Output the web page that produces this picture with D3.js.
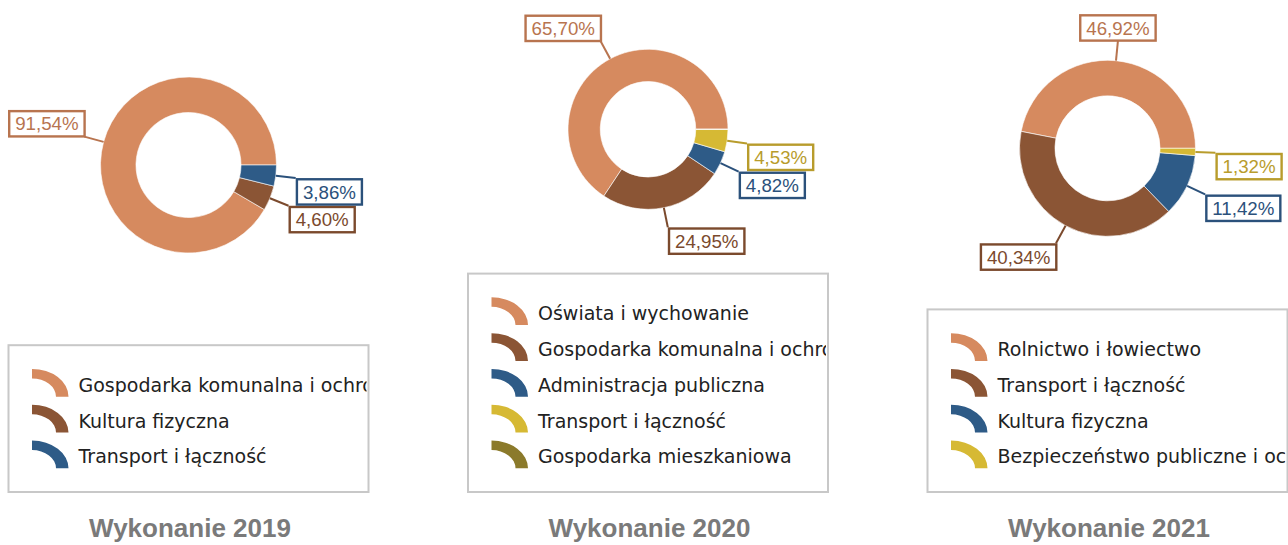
<!DOCTYPE html>
<html>
<head>
<meta charset="utf-8">
<script src="https://cdn.jsdelivr.net/npm/d3@7"></script>
<style>
  html, body { margin: 0; padding: 0; background: #fff; }
  svg { display: block; }
</style>
</head>
<body>
<svg id="chart" width="1288" height="545"></svg>
<script>
(function () {
    'use strict';

    // data
    var categories2019 = ["Gospodarka komunalna i ochrona środowiska", "Kultura fizyczna", "Transport i łączność"];
    var values2019 = [91.54, 4.60, 3.86];

    var categories2020 = ["Oświata i wychowanie", "Gospodarka komunalna i ochrona środowiska",
        "Administracja publiczna", "Transport i łączność", "Gospodarka mieszkaniowa"];
    var values2020 = [65.70, 24.95, 4.82, 4.53, 0];

    var categories2021 = ["Rolnictwo i łowiectwo", "Transport i łączność", "Kultura fizyczna",
        "Bezpieczeństwo publiczne i ochrona przeciwpożarowa"];
    var values2021 = [46.92, 40.34, 11.42, 1.32];

    var titles = ["Wykonanie 2019", "Wykonanie 2020", "Wykonanie 2021"];

    // styles
    var palette = ["#d68a5f", "#8b5535", "#2e5b87", "#d6b934", "#8b7a2b"],
        labelPalette = ["#b8744f", "#7b4a2d", "#2b517b", "#b89c2c", "#77691f"];

    var panels = [
        { cats: categories2019, vals: values2019, title: titles[0], cx: 188.5, cy: 165, r: 88 },
        { cats: categories2020, vals: values2020, title: titles[1], cx: 648, cy: 129.3, r: 80 },
        { cats: categories2021, vals: values2021, title: titles[2], cx: 1107.5, cy: 148.3, r: 88 }
    ];

    var svg = d3.select("#chart");
    var fmt = function (v) { return v.toFixed(2).replace(".", ",") + "%"; };

    var pie = d3.pie()
        .sort(null)
        .value(function (d) { return d; })
        .startAngle(Math.PI / 2)
        .endAngle(Math.PI / 2 - 2 * Math.PI);

    var legendW = 360, legendBottom = 492, itemStep = 35.8;

    panels.forEach(function (p, pi) {
        var g = svg.append("g").attr("transform", "translate(" + p.cx + "," + p.cy + ")");
        var arc = d3.arc().innerRadius(p.r * 0.597).outerRadius(p.r);
        var arcs = pie(p.vals);

        g.selectAll("path.slice")
            .data(arcs)
            .enter()
            .append("path")
            .attr("class", "slice")
            .attr("d", arc)
            .attr("fill", function (d, i) { return palette[i]; })
            .attr("stroke", "#fff")
            .attr("stroke-opacity", 0.6)
            .attr("stroke-width", 1);

        // labels
        var labs = g.selectAll("g.lab")
            .data(arcs.filter(function (d) { return d.value > 0; }))
            .enter()
            .append("g")
            .attr("class", "lab");

        labs.each(function (d) {
            var el = d3.select(this),
                i = d.index,
                col = labelPalette[i],
                a = (d.startAngle + d.endAngle) / 2,
                dx = Math.sin(a), dy = -Math.cos(a),
                sx = dx * p.r, sy = dy * p.r,
                ex = dx * (p.r + 20), ey = dy * (p.r + 20);

            el.append("line")
                .attr("x1", sx).attr("y1", sy)
                .attr("x2", ex).attr("y2", ey)
                .attr("stroke", col)
                .attr("stroke-width", 2);

            var rect = el.append("rect");
            var txt = el.append("text")
                .text(fmt(d.value))
                .attr("font-family", "'Liberation Sans', Arial, sans-serif")
                .attr("font-size", "18.7px")
                .attr("fill", col)
                .attr("text-anchor", "middle");

            var tw = txt.node().getComputedTextLength(),
                w = tw + 14.4, h = 27.7,
                left, top;

            if (Math.abs(dx) < 0.15) { left = ex - w / 2; }
            else if (dx > 0) { left = ex; }
            else { left = ex - w + 1.5; }
            top = dy > 0 ? ey : ey - h + 1;

            rect.attr("x", left + 1.2).attr("y", top + 1.2)
                .attr("width", w - 2.4).attr("height", h - 2.4)
                .attr("fill", "#fff")
                .attr("stroke", col)
                .attr("stroke-width", 2.4);

            txt.attr("x", left + w / 2).attr("y", top + h / 2 + 6.6);
        });

        // legend
        var n = p.cats.length,
            lh = (n - 1) * itemStep + 75.2,
            lx = p.cx - legendW / 2,
            ly = legendBottom - lh;

        var lg = svg.append("g").attr("transform", "translate(" + lx + "," + ly + ")");
        lg.append("rect")
            .attr("x", 0).attr("y", 0)
            .attr("width", legendW).attr("height", lh)
            .attr("fill", "#fff")
            .attr("stroke", "#c8c8c8")
            .attr("stroke-width", 2);

        svg.append("clipPath").attr("id", "lclip" + pi)
            .append("rect")
            .attr("x", 0).attr("y", 0)
            .attr("width", legendW - 2).attr("height", lh);

        var icon = d3.arc()
            .innerRadius(24)
            .outerRadius(36.5)
            .startAngle(0)
            .endAngle(Math.PI / 2);

        var items = lg.append("g")
            .attr("clip-path", "url(#lclip" + pi + ")")
            .selectAll("g.item")
            .data(p.cats)
            .enter()
            .append("g")
            .attr("class", "item")
            .attr("transform", function (d, i) {
                return "translate(0," + (46.5 + i * itemStep) + ")";
            });

        items.append("path")
            .attr("d", icon)
            .attr("transform", "translate(23.5,5) scale(1,0.76)")
            .attr("fill", function (d, i) { return palette[i]; });

        items.append("text")
            .attr("x", 70)
            .attr("y", 0)
            .attr("font-family", "'DejaVu Sans', Verdana, sans-serif")
            .attr("font-size", "19px")
            .attr("fill", "#222")
            .text(function (d) { return d; });

        svg.append("text")
            .attr("x", p.cx + 1.5)
            .attr("y", 536.5)
            .attr("text-anchor", "middle")
            .attr("font-family", "'Liberation Sans', Arial, sans-serif")
            .attr("font-weight", "bold")
            .attr("font-size", "26px")
            .attr("fill", "#7a7a7a")
            .text(p.title);
    });
})();
</script>
</body>
</html>
